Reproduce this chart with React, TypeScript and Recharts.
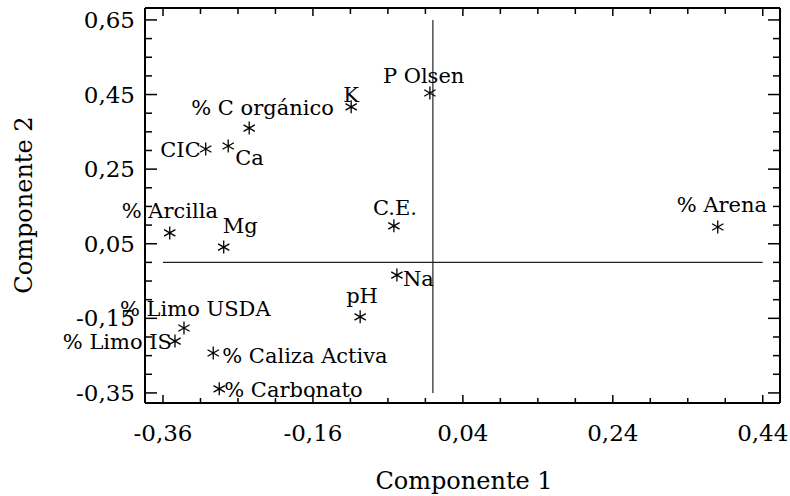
import { ScatterChart, Scatter, XAxis, YAxis, ReferenceLine } from 'recharts';

const names = [
  'P Olsen', 'K', '% C orgánico', 'CIC', 'Ca', '% Arcilla', 'Mg', 'C.E.',
  '% Arena', 'Na', 'pH', '% Limo USDA', '% Limo IS', '% Caliza Activa', '% Carbonato',
];
const comp1 = [-0.004, -0.109, -0.245, -0.303, -0.273, -0.351, -0.279, -0.052, 0.38, -0.048, -0.097, -0.332, -0.344, -0.293, -0.285];
const comp2 = [0.454, 0.417, 0.36, 0.304, 0.312, 0.079, 0.041, 0.098, 0.095, -0.034, -0.146, -0.176, -0.211, -0.243, -0.339];

const xTicks = [-0.36, -0.31, -0.26, -0.21, -0.16, -0.11, -0.06, -0.01, 0.04, 0.09, 0.14, 0.19, 0.24, 0.29, 0.34, 0.39, 0.44];
const yTicks = [-0.35, -0.3, -0.25, -0.2, -0.15, -0.1, -0.05, 0, 0.05, 0.1, 0.15, 0.2, 0.25, 0.3, 0.35, 0.4, 0.45, 0.5, 0.55, 0.6, 0.65];

const points = names.map((name, i) => ({ name, x: comp1[i], y: comp2[i] }));

// where each label sits relative to its marker: [dx, dy, anchor]
const labelPos: Record<string, [number, number, string]> = {
  'P Olsen': [-47, -10, 'start'],
  'K': [-8, -5, 'start'],
  '% C orgánico': [-58, -13, 'start'],
  'CIC': [-5, 8, 'end'],
  'Ca': [7, 19, 'start'],
  '% Arcilla': [-48, -15, 'start'],
  'Mg': [-1, -14, 'start'],
  'C.E.': [-21, -11, 'start'],
  '% Arena': [-41, -15, 'start'],
  'Na': [6, 11, 'start'],
  'pH': [-14, -14, 'start'],
  '% Limo USDA': [-64, -12, 'start'],
  '% Limo IS': [-3, 8, 'end'],
  '% Caliza Activa': [9, 10, 'start'],
  '% Carbonato': [5, 8, 'start'],
};

const FONT = "'DejaVu Serif', serif";
const fmt = (v: number) => v.toFixed(2).replace('.', ',');

const txt = (size: number) => ({ fontFamily: FONT, fontSize: size });

const makeTick = (side: 'left' | 'right' | 'top' | 'bottom') => (props: any) => {
  const { x, y, index, payload } = props;
  const major = index % 4 === 0;
  if (side === 'left') {
    const len = major ? 12 : 7;
    return (
      <g>
        <line x1={x} y1={y} x2={x + len} y2={y} stroke="#000" strokeWidth={1.5} />
        {major && (
          <text x={x - 10} y={y + 8} textAnchor="end" style={txt(23)} fill="#000">
            {fmt(payload.value)}
          </text>
        )}
      </g>
    );
  }
  if (side === 'right') {
    const len = major ? 12 : 7;
    return <line x1={x} y1={y} x2={x - len} y2={y} stroke="#000" strokeWidth={1.5} />;
  }
  if (side === 'top') {
    const len = major ? 8 : 6;
    return <line x1={x} y1={y} x2={x} y2={y + len} stroke="#000" strokeWidth={1.5} />;
  }
  const len = major ? 8 : 5;
  return (
    <g>
      <line x1={x} y1={y} x2={x} y2={y - len} stroke="#000" strokeWidth={1.5} />
      {major && (
        <text x={x} y={y + 38} textAnchor="middle" style={txt(23)} fill="#000">
          {fmt(payload.value)}
        </text>
      )}
    </g>
  );
};

const StarPoint = (props: any) => {
  const { cx, cy, payload } = props;
  const r = 6.5;
  const hx = r * 0.87;
  const hy = r * 0.5;
  const [dx, dy, anchor] = labelPos[payload.name] || [6, -6, 'start'];
  return (
    <g>
      <path
        d={`M${cx},${cy - r}L${cx},${cy + r}M${cx - hx},${cy - hy}L${cx + hx},${cy + hy}M${cx - hx},${cy + hy}L${cx + hx},${cy - hy}`}
        stroke="#000"
        strokeWidth={1.3}
        fill="none"
      />
      <text x={cx + dx} y={cy + dy} textAnchor={anchor as any} style={txt(21)} fill="#000">
        {payload.name}
      </text>
    </g>
  );
};

export default function App() {
  const xDomain = [-0.384, 0.463];
  const yDomain = [-0.377, 0.682];
  return (
    <div style={{ position: 'absolute', left: 0, top: 0, background: '#fff', fontFamily: FONT }}>
      <ScatterChart width={790} height={496} margin={{ top: 7, right: 9, bottom: 0, left: 0 }}>
        <XAxis
          xAxisId="bottom"
          type="number"
          dataKey="x"
          domain={xDomain}
          ticks={xTicks}
          interval={0}
          tickSize={0}
          tickMargin={0}
          tickLine={false}
          height={93}
          axisLine={{ stroke: '#000', strokeWidth: 2 }}
          tick={makeTick('bottom')}
          label={{
            content: () => (
              <text x={464} y={489} textAnchor="middle" style={txt(24)} fill="#000">
                Componente 1
              </text>
            ),
          }}
        />
        <XAxis
          xAxisId="top"
          orientation="top"
          type="number"
          dataKey="x"
          domain={xDomain}
          ticks={xTicks}
          interval={0}
          tickSize={0}
          tickMargin={0}
          tickLine={false}
          height={1}
          axisLine={{ stroke: '#000', strokeWidth: 2 }}
          tick={makeTick('top')}
        />
        <YAxis
          yAxisId="left"
          type="number"
          dataKey="y"
          domain={yDomain}
          ticks={yTicks}
          interval={0}
          tickSize={0}
          tickMargin={0}
          tickLine={false}
          width={145}
          axisLine={{ stroke: '#000', strokeWidth: 2 }}
          tick={makeTick('left')}
          label={{
            content: () => (
              <text
                x={0}
                y={0}
                transform="translate(32, 205) rotate(-90)"
                textAnchor="middle"
                style={txt(24)}
                fill="#000"
              >
                Componente 2
              </text>
            ),
          }}
        />
        <YAxis
          yAxisId="right"
          orientation="right"
          type="number"
          dataKey="y"
          domain={yDomain}
          ticks={yTicks}
          interval={0}
          tickSize={0}
          tickMargin={0}
          tickLine={false}
          width={1}
          axisLine={{ stroke: '#000', strokeWidth: 2 }}
          tick={makeTick('right')}
        />
        <ReferenceLine
          xAxisId="bottom"
          yAxisId="left"
          segment={[{ x: -0.36, y: 0 }, { x: 0.44, y: 0 }]}
          stroke="#222"
          strokeWidth={1.2}
        />
        <ReferenceLine
          xAxisId="bottom"
          yAxisId="left"
          segment={[{ x: 0, y: -0.35 }, { x: 0, y: 0.65 }]}
          stroke="#222"
          strokeWidth={1.2}
        />
        <Scatter
          xAxisId="bottom"
          yAxisId="left"
          data={points}
          shape={StarPoint}
          isAnimationActive={false}
        />
        <Scatter
          xAxisId="top"
          yAxisId="right"
          data={points}
          shape={() => <g />}
          isAnimationActive={false}
        />
      </ScatterChart>
    </div>
  );
}
